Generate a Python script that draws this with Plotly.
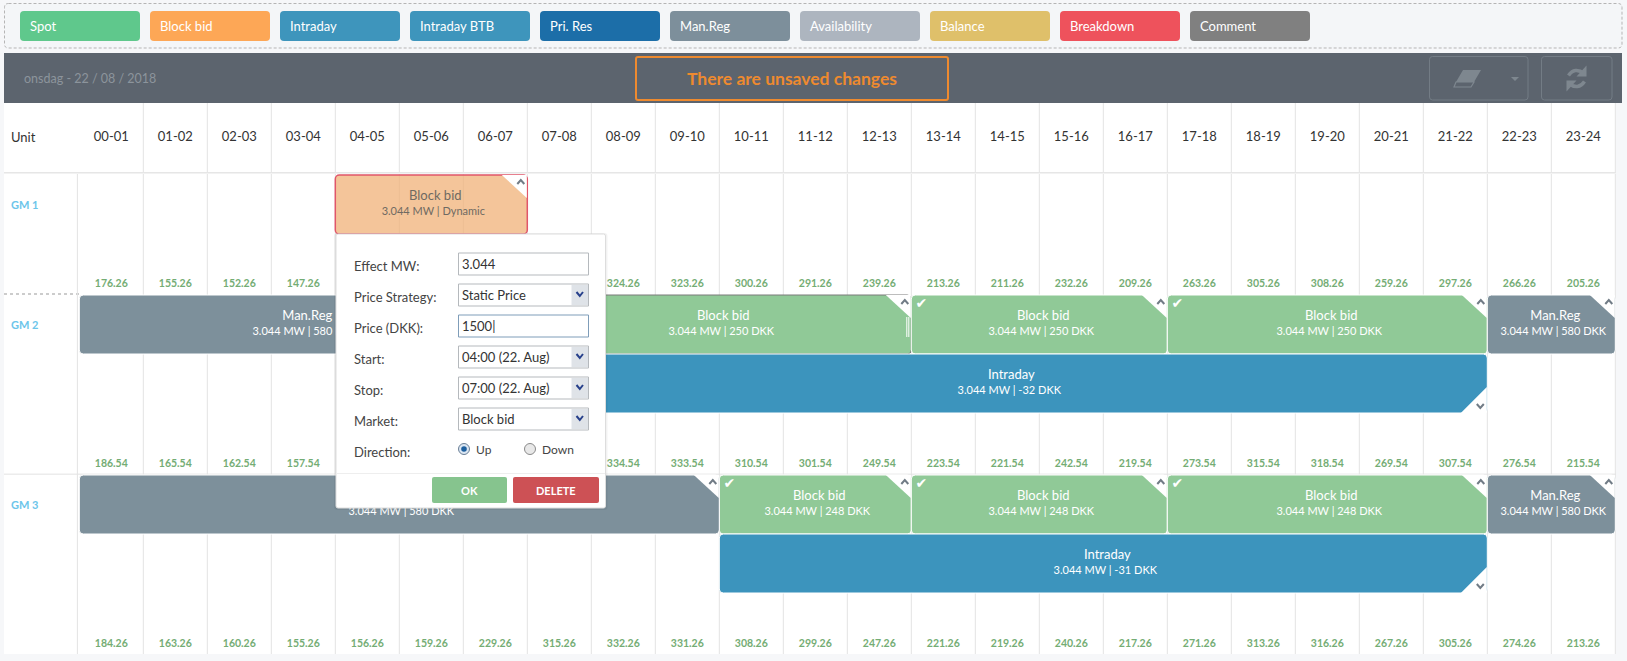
import plotly.graph_objects as go

W, H = 1627, 661
X0, HOUR = 79.3, 64.0
FONT = "Lato"

hours = ["00-01", "01-02", "02-03", "03-04", "04-05", "05-06", "06-07", "07-08", "08-09", "09-10", "10-11", "11-12",
         "12-13", "13-14", "14-15", "15-16", "16-17", "17-18", "18-19", "19-20", "20-21", "21-22", "22-23", "23-24"]
units = ["GM 1", "GM 2", "GM 3"]

# None = hidden behind the popup in the screenshot
gm1_values = ["176.26", "155.26", "152.26", "147.26", None, None, None, None, "324.26", "323.26", "300.26", "291.26",
              "239.26", "213.26", "211.26", "232.26", "209.26", "263.26", "305.26", "308.26", "259.26", "297.26",
              "266.26", "205.26"]
gm2_values = ["186.54", "165.54", "162.54", "157.54", None, None, None, None, "334.54", "333.54", "310.54", "301.54",
              "249.54", "223.54", "221.54", "242.54", "219.54", "273.54", "315.54", "318.54", "269.54", "307.54",
              "276.54", "215.54"]
gm3_values = ["184.26", "163.26", "160.26", "155.26", "156.26", "159.26", "229.26", "315.26", "332.26", "331.26",
              "308.26", "299.26", "247.26", "221.26", "219.26", "240.26", "217.26", "271.26", "313.26", "316.26",
              "267.26", "305.26", "274.26", "213.26"]

bar_unit = [0, 1, 1, 1, 1, 1, 1, 2, 2, 2, 2, 2, 2]
bar_lane = [0, 0, 0, 0, 0, 0, 1, 0, 0, 0, 0, 0, 1]
bar_start = [4, 0, 7, 13, 17, 22, 7, 0, 10, 13, 17, 22, 10]
bar_stop = [7, 7, 13, 17, 22, 24, 22, 10, 13, 17, 22, 24, 22]
bar_market = ["Block bid", "Man.Reg", "Block bid", "Block bid", "Block bid", "Man.Reg", "Intraday",
              "Man.Reg", "Block bid", "Block bid", "Block bid", "Man.Reg", "Intraday"]
bar_detail = ["3.044 MW | Dynamic", "3.044 MW | 580 DKK", "3.044 MW | 250 DKK", "3.044 MW | 250 DKK",
              "3.044 MW | 250 DKK", "3.044 MW | 580 DKK", "3.044 MW | -32 DKK", "3.044 MW | 580 DKK",
              "3.044 MW | 248 DKK", "3.044 MW | 248 DKK", "3.044 MW | 248 DKK", "3.044 MW | 580 DKK",
              "3.044 MW | -31 DKK"]
bar_checked = [0, 0, 0, 1, 1, 0, 0, 0, 1, 1, 1, 0, 0]

legend_names = ["Spot", "Block bid", "Intraday", "Intraday BTB", "Pri. Res", "Man.Reg", "Availability", "Balance",
                "Breakdown", "Comment"]
legend_colors = ["#5fc88c", "#fda756", "#3e95bc", "#3e95bc", "#1c6ea8", "#7d8f9b", "#adb5bf", "#dfc06a", "#ee525c",
                 "#808080"]

form_labels = ["Effect MW:", "Price Strategy:", "Price (DKK):", "Start:", "Stop:", "Market:"]
form_values = ["3.044", "Static Price", "1500", "04:00 (22. Aug)", "07:00 (22. Aug)", "Block bid"]
form_is_select = [False, True, False, True, True, True]

shapes = []
notes = []


def fx(x):
    return x / W


def hx(hour):
    return X0 + hour * HOUR


def rect(x0, y0, x1, y1, fill="rgba(0,0,0,0)", line=None, lw=1, dash=None, r=0, layer="below"):
    a, b = fx(x0), fx(x1)
    ra = r / W
    if r:
        path = (f"M{a + ra},{y0} L{b - ra},{y0} Q{b},{y0} {b},{y0 + r} L{b},{y1 - r} Q{b},{y1} {b - ra},{y1} "
                f"L{a + ra},{y1} Q{a},{y1} {a},{y1 - r} L{a},{y0 + r} Q{a},{y0} {a + ra},{y0} Z")
    else:
        path = f"M{a},{y0} L{b},{y0} L{b},{y1} L{a},{y1} Z"
    shapes.append(dict(type="path", xref="paper", yref="y", path=path, fillcolor=fill, layer=layer,
                       line=dict(color=line or "rgba(0,0,0,0)", width=lw if line else 0, dash=dash)))


def poly(points, fill=None, line=None, lw=1, layer="above", close=True):
    path = "M" + " L".join(f"{fx(x)},{y}" for x, y in points) + (" Z" if close else "")
    shapes.append(dict(type="path", xref="paper", yref="y", path=path, layer=layer,
                       fillcolor=fill or "rgba(0,0,0,0)",
                       line=dict(color=line or "rgba(0,0,0,0)", width=lw if line else 0)))


def note(x, y, text, size=13, color="#333333", anchor="left", bold=False):
    notes.append(dict(x=fx(x), y=y, xref="paper", yref="y", text=f"<b>{text}</b>" if bold else text,
                      showarrow=False, xanchor=anchor, yanchor="middle", borderpad=0,
                      font=dict(family=FONT, size=size, color=color)))


def lane_top(unit, lane):
    return [175, 295, 475][unit] + lane * 59


# page chrome
rect(4.5, 3.5, 1622, 48, fill="#f4f6f8", line="#b5b5b5", dash="3px,2px", r=4)
for i, (name, colour) in enumerate(zip(legend_names, legend_colors)):
    rect(20 + i * 130, 11, 140 + i * 130, 41, fill=colour, r=4)
    note(29 + i * 130, 26, name, size=13, color="#ffffff")

rect(4, 53, 1622, 103, fill="#5c646e")
note(23, 78.5, "onsdag - 22 / 08 / 2018", size=12.5, color="#8c949c")
rect(636, 57, 948, 100, line="#ee8a2f", lw=2, r=2)
note(792, 78, "There are unsaved changes", size=17.5, color="#ee8a2f", anchor="center", bold=True)
rect(1429.5, 56.5, 1528, 100, line="#737c85", r=3)
rect(1541.5, 56.5, 1612, 100, line="#737c85", r=3)
poly([(1463, 70), (1481, 70), (1474, 82), (1456, 82)], fill="#7e878f", layer="below")
poly([(1456, 82), (1474, 82), (1471, 87), (1454, 87)], line="#7e878f", lw=1.2, layer="below")
poly([(1511, 77), (1519, 77), (1515, 81)], fill="#7e878f", layer="below")
# refresh icon
for sign in (1, -1):
    a, b, c = 1576.5 - sign * 8, 1576.5, 1576.5 + sign * 8
    ym = 78.5
    shapes.append(dict(type="path", xref="paper", yref="y", layer="below", line=dict(color="#7e878f", width=3.5),
                       path=f"M{fx(a)},{ym - sign * 3} Q{fx(b - sign * 2)},{ym - sign * 12} {fx(c)},{ym - sign * 5}"))
    poly([(c + sign * 2, ym - sign * 13), (c + sign * 2, ym - sign * 2), (c - sign * 8, ym - sign * 2)],
         fill="#7e878f", layer="below")

# table
rect(4, 103, 1616, 654, fill="#ffffff")
rect(4, 172, 1616, 173.5, fill="#e6e6e6")
rect(4, 473.5, 1616, 475, fill="#ececec")
shapes.append(dict(type="line", xref="paper", yref="y", x0=fx(4), x1=fx(79), y0=294, y1=294, layer="below",
                   line=dict(color="#999999", width=1, dash="dot")))
note(9.5, 137, "Unit", size=13, color="#333333")
for name, y in zip(units, [204, 324, 504]):
    note(9.5, y, name, size=11, color="#6cc5ea", bold=True)

# column grid, below the bars
grid_line = dict(color="#e3e3e3", width=1)
for h in range(1, 25):
    shapes.append(dict(type="line", xref="x", yref="y", x0=h, x1=h, y0=103, y1=172, layer="below", line=grid_line))
for h in range(0, 25):
    gx = h - (1.9 / HOUR if h == 0 else 0)
    shapes.append(dict(type="line", xref="x", yref="y", x0=gx, x1=gx, y0=174, y1=654, layer="below", line=grid_line))

fig = go.Figure()

fig.add_trace(go.Scatter(x=[i + 0.5 for i in range(24)], y=[138] * 24, text=hours, mode="text",
                         textfont=dict(family=FONT, size=13, color="#333333"), hoverinfo="skip"))

# schedule bars, one trace per market
market_colors = {"Block bid": "#90c997", "Man.Reg": "#7d909b", "Intraday": "#3c94bd"}
for market, colour in market_colors.items():
    idx = [i for i, m in enumerate(bar_market) if m == market]
    fill, edge, edge_w = [], [], []
    for i in idx:
        if i == 0:  # the selected bid, drawn in its own colours
            fill.append("rgba(240,178,120,0.75)"), edge.append("#e0566a"), edge_w.append(1.5)
        elif i == 2:
            fill.append(colour), edge.append("#7a7a7a"), edge_w.append(1)
        else:
            fill.append(colour), edge.append("#ffffff"), edge_w.append(1)
    fig.add_trace(go.Bar(
        orientation="h",
        y=[lane_top(bar_unit[i], bar_lane[i]) + 29.5 for i in idx],
        base=[bar_start[i] for i in idx],
        x=[bar_stop[i] - bar_start[i] for i in idx],
        width=59,
        marker=dict(color=fill, line=dict(color=edge, width=edge_w)),
        name=market,
        hoverinfo="skip",
    ))

title_x, title_y, sub_x, sub_y, tick_x, tick_y = [], [], [], [], [], []
for i, market in enumerate(bar_market):
    mid = (bar_start[i] + bar_stop[i]) / 2
    top = lane_top(bar_unit[i], bar_lane[i])
    title_x.append(mid + 4 / HOUR)
    title_y.append(top + 21.5)
    sub_x.append(mid + 2 / HOUR)
    sub_y.append(top + 37)
    if bar_checked[i]:
        tick_x.append(bar_start[i] + 10 / HOUR)
        tick_y.append(top + 9)
    right = hx(bar_stop[i]) - 0.5
    if market == "Intraday":
        bottom = top + 59
        poly([(right - 26, bottom), (right, bottom), (right, bottom - 26)], fill="#ffffff")
        cx, cy = right - 6.5, bottom - 7
        poly([(cx - 3.5, cy - 2), (cx, cy + 2), (cx + 3.5, cy - 2)], line="#717c86", lw=2, close=False)
    else:
        poly([(right - 25, top), (right, top), (right, top + 23)], fill="#ffffff")
        cx, cy = right - 6, top + 7
        poly([(cx - 3.5, cy + 2), (cx, cy - 2), (cx + 3.5, cy + 2)], line="#717c86", lw=2, close=False)

# resize handle on the bid being dragged
rect(hx(13) - 5, 317, hx(13) - 4, 337, fill="#ffffff", layer="above")
rect(hx(13) - 3, 317, hx(13) - 2, 337, fill="#ffffff", layer="above")

text_colors = ["#6f6a62" if i == 0 else "#ffffff" for i in range(len(bar_market))]
fig.add_trace(go.Scatter(x=title_x, y=title_y, text=bar_market, mode="text", hoverinfo="skip",
                         textfont=dict(family=FONT, size=13, color=text_colors)))
fig.add_trace(go.Scatter(x=sub_x, y=sub_y, text=bar_detail, mode="text", hoverinfo="skip",
                         textfont=dict(family=FONT, size=11, color=text_colors)))
fig.add_trace(go.Scatter(x=tick_x, y=tick_y, text=["✔"] * len(tick_x), mode="text", hoverinfo="skip",
                         textfont=dict(family="DejaVu Sans", size=14, color="#ffffff")))

# hourly values under each unit
for values, y in zip([gm1_values, gm2_values, gm3_values], [284, 464, 644]):
    fig.add_trace(go.Scatter(x=[i + 0.5 for i in range(24)], y=[y] * 24, text=values, mode="text", hoverinfo="skip",
                             textfont=dict(family=FONT, size=10.5, color="#74ad74", weight="bold")))

# popup editor, above everything
rect(334, 233, 607.5, 510, fill="rgba(0,0,0,0.05)", r=3, layer="above")
rect(336, 234, 605.5, 508, fill="#ffffff", line="#dddddd", r=2, layer="above")
rect(336.5, 473, 605, 474, fill="#eeeeee", layer="above")
for i, (label, value, is_select) in enumerate(zip(form_labels, form_values, form_is_select)):
    y0 = 253 + i * 31
    note(352.5, y0 + 13, label, size=13, color="#444444")
    focus = label.startswith("Price (")
    rect(458.5, y0, 588.5, y0 + 22, fill="#ffffff", line="#7f9db9" if focus else "#b5b9bd", layer="above")
    note(461, y0 + 11, value + ("|" if focus else ""), size=13, color="#333333")
    if is_select:
        rect(571.5, y0 + 1, 588, y0 + 21, fill="#dfe3e8", layer="above")
        poly([(576.5, y0 + 8), (579.8, y0 + 12), (583, y0 + 8)], line="#27408b", lw=2, close=False)
note(352.5, 452, "Direction:", size=13, color="#444444")
shapes.append(dict(type="circle", xref="paper", yref="y", x0=fx(458.5), x1=fx(469.5), y0=443.5, y1=454.5,
                   fillcolor="#dbe6f2", line=dict(color="#6a7f96", width=1), layer="above"))
shapes.append(dict(type="circle", xref="paper", yref="y", x0=fx(461.2), x1=fx(466.8), y0=446.2, y1=451.8,
                   fillcolor="#1d5f9e", line=dict(width=0), layer="above"))
shapes.append(dict(type="circle", xref="paper", yref="y", x0=fx(524.5), x1=fx(535.5), y0=443.5, y1=454.5,
                   fillcolor="#e8e8e8", line=dict(color="#8a8a8a", width=1), layer="above"))
note(475, 449, "Up", size=12, color="#444444")
note(541, 449, "Down", size=12, color="#444444")
rect(432, 477, 507, 503, fill="#86c48e", r=2, layer="above")
note(469.5, 490, "OK", size=11, color="#ffffff", anchor="center", bold=True)
rect(513, 477, 599, 503, fill="#cd5155", r=2, layer="above")
note(556, 490, "DELETE", size=11, color="#ffffff", anchor="center", bold=True)

fig.update_layout(
    width=W, height=H,
    margin=dict(l=0, r=0, t=0, b=0),
    paper_bgcolor="#f6f7f9",
    plot_bgcolor="#f6f7f9",
    showlegend=False,
    barmode="overlay",
    barcornerradius=4,
    shapes=shapes,
    annotations=notes,
    xaxis=dict(range=[-X0 / HOUR, (W - X0) / HOUR], visible=False),
    yaxis=dict(range=[H, 0], visible=False),
)

fig.write_html("out.html", config={"displayModeBar": False}, post_script="document.body.style.margin='0';")
